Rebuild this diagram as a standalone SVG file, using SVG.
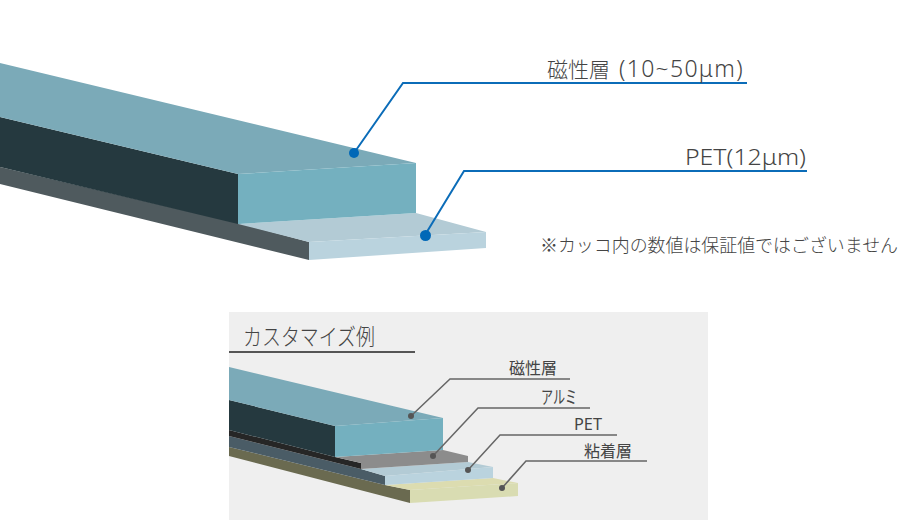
<svg xmlns="http://www.w3.org/2000/svg" width="900" height="532" viewBox="0 0 900 532">
<style>
text{font-family:"Noto Sans CJK JP","Noto Sans",sans-serif;fill:#444;font-weight:300}
.lat{font-family:"Noto Sans","Noto Sans CJK JP",sans-serif}
.big{font-size:22px}
.sm{font-size:16px;font-weight:400}
.top{fill:#7baab8}.front{fill:#74b0bf}.dark{fill:#25393f}.side{fill:#4f5a5e}
.pt{fill:#b3cbd5}.pf{fill:#bad3de}
.blue{fill:none;stroke:#0b6cb8;stroke-width:2}
.grey{fill:none;stroke:#666;stroke-width:1.5}
.bd{fill:#0068b7}.gd{fill:#555}
</style>
<rect x="229" y="312" width="479" height="208" fill="#efefef"/>
<g id="main-strip">
<polygon class="side" points="0,167 238,223 309,242 309,260 0,184"/>
<polygon class="pt" points="238,224 416,213 486,232 309,242"/>
<polygon class="pf" points="309,242 486,232 486,248 309,260"/>
<polygon class="dark" points="0,117 238,174 238,224 0,167"/>
<polygon class="top" points="0,63 416,163 238,174 0,117"/>
<polygon class="front" points="238,174 416,163 416,213 238,224"/>
</g>
<g id="custom-strip">
<polygon fill="#6a6a50" points="229,447 385,485 410,490 410,503 229,456"/>
<polygon fill="#dcdcb0" points="385,485 493,478 518,483 410,490"/>
<polygon fill="#d9dcb2" points="410,490 518,483 518,496 410,503"/>
<polygon fill="#4a5c66" points="229,436 361,469 385,476 385,485 229,447"/>
<polygon class="pt" points="361,469 468,462 493,467 385,476"/>
<polygon class="pf" points="385,476 493,467 493,478 385,485"/>
<polygon fill="#262626" points="229,430 335,457 361,463 361,469 229,436"/>
<polygon fill="#8c8c8c" points="335,457 443,450 468,456 468,462 361,469 361,463"/>
<polygon class="dark" points="229,400 335,426 335,457 229,430"/>
<polygon class="top" points="229,367 443,418 335,426 229,400"/>
<polygon class="front" points="335,426 443,418 443,450 335,457"/>
</g>
<g id="connectors">
<polyline class="blue" points="354,153 403,83 747,83"/>
<polyline class="blue" points="425,235 464,171 807,171"/>
<polyline class="grey" points="411,416 450,379 570,379"/>
<polyline class="grey" points="433,456 478,408 590,408"/>
<polyline class="grey" points="468,470 500,435 617,435"/>
<polyline class="grey" points="502,488 526,461 647,461"/>
<line x1="229" y1="352" x2="415" y2="352" stroke="#555" stroke-width="2"/>
<circle class="bd" cx="354" cy="153" r="5"/>
<circle class="bd" cx="425.500" cy="235.500" r="5.500"/>
<circle class="gd" cx="411" cy="416" r="3"/>
<circle class="gd" cx="433" cy="456" r="3"/>
<circle class="gd" cx="468" cy="470" r="3"/>
<circle class="gd" cx="502" cy="488" r="3"/>
</g>
<g id="label-magnetic"><text class="lat big" x="547" y="77"><tspan font-size="21">磁性層 </tspan><tspan x="619" font-size="23" letter-spacing="1.300">(10~50μm)</tspan></text></g>
<g id="label-pet"><text class="lat big" x="685" y="165" textLength="121" lengthAdjust="spacingAndGlyphs">PET(12μm)</text></g>
<g id="note"><text x="540" y="252" font-size="18" textLength="358" lengthAdjust="spacingAndGlyphs">※カッコ内の数値は保証値ではございません</text></g>
<g id="title"><text x="243" y="345" font-size="23" textLength="132" lengthAdjust="spacingAndGlyphs">カスタマイズ例</text></g>
<g id="label-c1"><text class="sm" x="509" y="374">磁性層</text></g>
<g id="label-c2"><text class="sm" x="541" y="404" style="font-size:18px" textLength="36" lengthAdjust="spacingAndGlyphs">アルミ</text></g>
<g id="label-c3"><text class="lat sm" x="574" y="430" textLength="28" lengthAdjust="spacingAndGlyphs">PET</text></g>
<g id="label-c4"><text class="sm" x="584" y="457">粘着層</text></g>
</svg>
